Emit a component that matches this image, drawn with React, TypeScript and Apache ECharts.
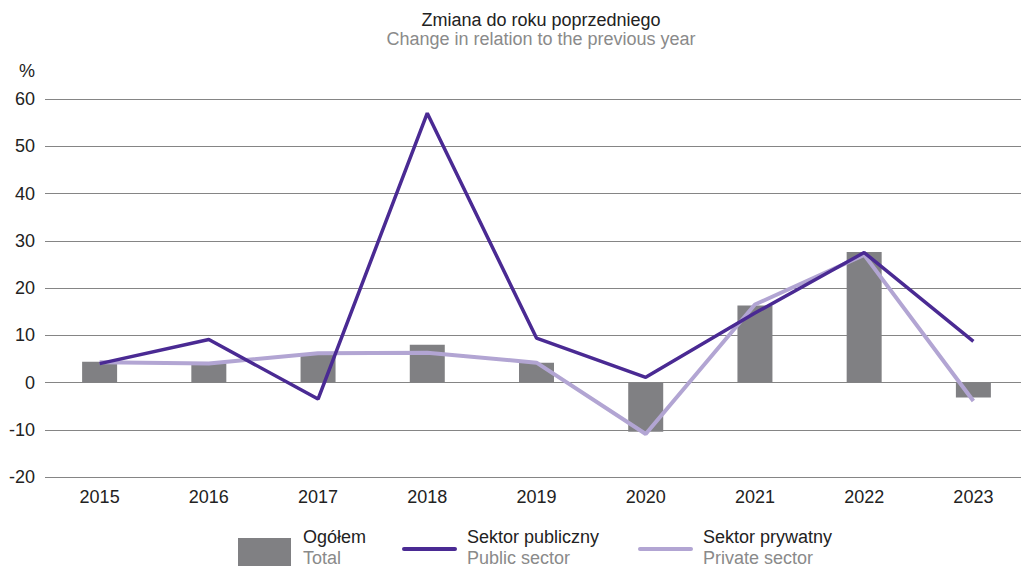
import React, { useEffect, useRef } from "react";
import * as echarts from "echarts";

const years = ["2015", "2016", "2017", "2018", "2019", "2020", "2021", "2022", "2023"];
const totalValues = [4.4, 4.0, 5.9, 8.0, 4.2, -10.4, 16.3, 27.6, -3.2];
const publicValues = [4.0, 9.1, -3.5, 57.0, 9.4, 1.1, 14.7, 27.5, 8.7];
const privateValues = [4.3, 4.0, 6.2, 6.3, 4.2, -10.9, 16.5, 27.0, -3.9];
const yTicks = { min: -20, max: 60, interval: 10 };

const titlePl = "Zmiana do roku poprzedniego";
const titleEn = "Change in relation to the previous year";
const legendNames = [
  { pl: "Ogółem", en: "Total" },
  { pl: "Sektor publiczny", en: "Public sector" },
  { pl: "Sektor prywatny", en: "Private sector" },
];

const FONT = "'Liberation Sans', Arial, sans-serif";
const FS = 18;
const C_BAR = "#808083";
const C_PUB = "#4a2a93";
const C_PRIV = "#b2a5d3";

export default function App() {
  const ref = useRef<HTMLDivElement>(null);
  useEffect(() => {
    document.body.style.margin = "0";
    document.body.style.overflow = "hidden";
    const chart = echarts.init(ref.current!, null, { renderer: "svg" });
    const legendText = (x: number, i: number) => ({
      type: "text",
      left: x,
      top: 528,
      style: {
        text: `{a|${legendNames[i].pl}}\n{b|${legendNames[i].en}}`,
        rich: {
          a: { fontSize: FS, fontFamily: FONT, fill: "#222", lineHeight: 21 },
          b: { fontSize: FS, fontFamily: FONT, fill: "#8a8a8a", lineHeight: 21 },
        },
      },
    });
    chart.setOption({
      animation: false,
      textStyle: { fontFamily: FONT },
      title: {
        text: titlePl,
        subtext: titleEn,
        left: 536,
        textAlign: "center",
        top: 6,
        itemGap: 1,
        textStyle: { fontSize: FS, fontWeight: "normal", color: "#222", fontFamily: FONT },
        subtextStyle: { fontSize: FS, color: "#8a8a8a", fontFamily: FONT },
      },
      grid: { left: 45, right: 0, top: 99, bottom: 92, containLabel: false },
      xAxis: {
        type: "category",
        data: years,
        axisLine: { show: false },
        axisTick: { show: false },
        axisLabel: { fontSize: FS, color: "#222", margin: 11, fontFamily: FONT },
      },
      yAxis: {
        type: "value",
        min: yTicks.min,
        max: yTicks.max,
        interval: yTicks.interval,
        name: "%",
        nameLocation: "end",
        nameGap: 19,
        nameTextStyle: { fontSize: FS, color: "#222", align: "right", padding: [0, 10, 0, 0], fontFamily: FONT },
        axisLine: { show: false },
        axisTick: { show: false },
        axisLabel: { fontSize: FS, color: "#222", margin: 10, fontFamily: FONT },
        splitLine: { lineStyle: { color: "#858585", width: 1 } },
      },
      series: [
        {
          name: legendNames[0].pl,
          type: "bar",
          data: totalValues,
          barWidth: 35,
          itemStyle: { color: C_BAR },
          z: 1,
        },
        {
          name: legendNames[2].pl,
          type: "line",
          data: privateValues,
          symbol: "none",
          lineStyle: { color: C_PRIV, width: 4 },
          z: 2,
        },
        {
          name: legendNames[1].pl,
          type: "line",
          data: publicValues,
          symbol: "none",
          lineStyle: { color: C_PUB, width: 3.5 },
          z: 3,
        },
      ],
      graphic: [
        { type: "rect", shape: { x: 238, y: 538, width: 53, height: 28 }, style: { fill: C_BAR } },
        legendText(303, 0),
        { type: "line", shape: { x1: 404, y1: 549, x2: 455, y2: 549 }, style: { stroke: C_PUB, lineWidth: 4, lineCap: "round" } },
        legendText(467, 1),
        { type: "line", shape: { x1: 640, y1: 549, x2: 691, y2: 549 }, style: { stroke: C_PRIV, lineWidth: 4, lineCap: "round" } },
        legendText(703, 2),
      ],
    });
    return () => chart.dispose();
  }, []);
  return <div ref={ref} style={{ width: 1028, height: 569 }} />;
}
